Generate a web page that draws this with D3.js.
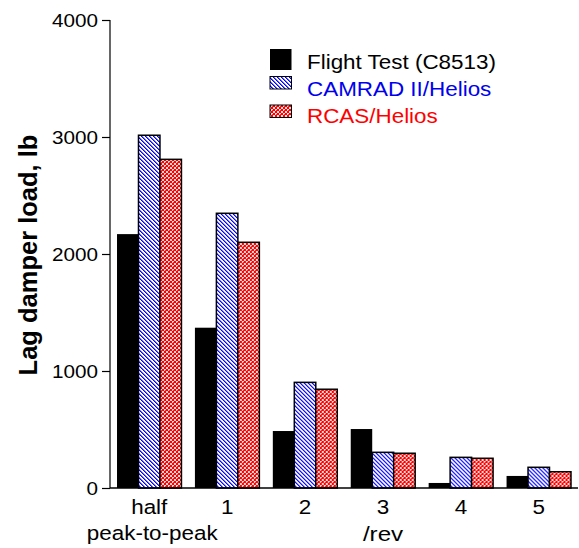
<!DOCTYPE html>
<html>
<head>
<meta charset="utf-8">
<script src="https://cdn.jsdelivr.net/npm/d3@7"></script>
<style>
  html, body { margin: 0; padding: 0; background: #fff; }
  svg { display: block; font-family: "Liberation Sans", Arial, sans-serif; }
</style>
</head>
<body>
<svg id="chart" width="579" height="548"></svg>
<script>
// Harmonic categories along the x axis
const categories = ["half", "1", "2", "3", "4", "5"];
const seriesNames = ["Flight Test (C8513)", "CAMRAD II/Helios", "RCAS/Helios"];
// Lag damper load (lb) per category
const flightTest = [2170, 1370, 487, 504, 43, 103];
const camrad     = [3015, 2348, 903, 305, 262, 177];
const rcas       = [2809, 2100, 844, 297, 254, 139];
const yTicks = [0, 1000, 2000, 3000, 4000];

const seriesValues = [flightTest, camrad, rcas];
const seriesFills = ["#000", "url(#hatchBlue)", "url(#checkRed)"];
const legendColors = ["#000", "#0000ee", "#ff0000"];

const svg = d3.select("#chart");
const X0 = 110, X1 = 578, Y0 = 488, Y1 = 20;
const HSTRETCH = 1.15;

// Fill patterns, drawn pixel by pixel for crisp hatching
const defs = svg.append("defs");
const hb = defs.append("pattern").attr("id", "hatchBlue")
  .attr("patternUnits", "userSpaceOnUse").attr("width", 4).attr("height", 4);
hb.append("rect").attr("width", 4).attr("height", 4).attr("fill", "#fff");
d3.range(4).forEach(k => {
  hb.append("rect").attr("x", k).attr("y", k).attr("width", 1).attr("height", 1)
    .attr("fill", "#0000ff").attr("shape-rendering", "crispEdges");
  hb.append("rect").attr("x", (k + 1) % 4).attr("y", k).attr("width", 1).attr("height", 1)
    .attr("fill", "#6a6aff").attr("shape-rendering", "crispEdges");
});
const cr = defs.append("pattern").attr("id", "checkRed")
  .attr("patternUnits", "userSpaceOnUse").attr("width", 4).attr("height", 4);
cr.append("rect").attr("width", 4).attr("height", 4).attr("fill", "#ffd8d8");
d3.range(4).forEach(k => {
  cr.append("rect").attr("x", k).attr("y", k).attr("width", 1).attr("height", 1)
    .attr("fill", "#ff0000").attr("shape-rendering", "crispEdges");
  cr.append("rect").attr("x", 3 - k).attr("y", k).attr("width", 1).attr("height", 1)
    .attr("fill", "#ff0000").attr("shape-rendering", "crispEdges");
});
cr.append("rect").attr("x", 0).attr("y", 2).attr("width", 1).attr("height", 1).attr("fill", "#ff3030");

const x = d3.scaleBand().domain(categories).range([X0, X1])
  .paddingInner(0.173).paddingOuter(0.09);
const xs = d3.scaleBand().domain(d3.range(3)).range([0, x.bandwidth()]);
const y = d3.scaleLinear().domain([0, 4000]).range([Y0, Y1]);

// Horizontally widened text helper
function wideText(g, tx, ty, str, size, anchor, color, weight) {
  return g.append("text")
    .attr("transform", `translate(${tx},${ty}) scale(${HSTRETCH},1)`)
    .attr("text-anchor", anchor)
    .attr("font-size", size)
    .attr("font-weight", weight || "normal")
    .attr("fill", color || "#000")
    .text(str);
}

// Bars
const groups = svg.append("g").selectAll("g")
  .data(categories).join("g")
  .attr("transform", d => `translate(${x(d)},0)`);
groups.selectAll("rect")
  .data((d, i) => seriesValues.map((vals, s) => ({ s, v: vals[i] })))
  .join("rect")
  .attr("x", d => xs(d.s))
  .attr("width", xs.bandwidth())
  .attr("y", d => y(d.v))
  .attr("height", d => Y0 - y(d.v))
  .attr("fill", d => seriesFills[d.s])
  .attr("stroke", "#000")
  .attr("stroke-width", d => d.s === 0 ? 0 : 1.5);

// Y axis
const yAxis = svg.append("g").attr("transform", `translate(${X0},0)`)
  .call(d3.axisLeft(y).tickValues(yTicks).tickSize(8).tickPadding(3).tickFormat(d3.format("d")));
yAxis.select(".domain").attr("d", `M0,${Y1}V${Y0}`).attr("stroke-width", 1.2);
yAxis.selectAll(".tick line").attr("stroke-width", 1.2);
yAxis.selectAll(".tick text").remove();
yTicks.forEach(t => wideText(svg, X0 - 12, y(t) + 6.5, String(t), 18, "end"));

// X axis line
svg.append("line").attr("x1", X0).attr("x2", X1).attr("y1", Y0).attr("y2", Y0)
  .attr("stroke", "#000").attr("stroke-width", 1.5);

// X category labels
categories.forEach(c => {
  wideText(svg, x(c) + x.bandwidth() / 2, 514, c, 19.5, "middle");
});
wideText(svg, x("half") + x.bandwidth() / 2 + 3, 540, "peak-to-peak", 19.5, "middle");
wideText(svg, 383, 541, "/rev", 21, "middle");

// Y axis title
svg.append("text")
  .attr("transform", `translate(37,255) rotate(-90)`)
  .attr("text-anchor", "middle")
  .attr("font-size", 25.5)
  .attr("font-weight", "bold")
  .text("Lag damper load, lb");

// Legend
const legend = svg.append("g");
const boxes = [
  { y: 49, h: 21 },
  { y: 76.5, h: 12.5 },
  { y: 105, h: 12.5 }
];
const baselines = [68.5, 96, 122.5];
seriesNames.forEach((name, i) => {
  legend.append("rect")
    .attr("x", 270).attr("y", boxes[i].y)
    .attr("width", 21.5).attr("height", boxes[i].h)
    .attr("fill", seriesFills[i])
    .attr("stroke", "#000").attr("stroke-width", i === 0 ? 0 : 1);
  wideText(legend, 307, baselines[i], name, 19.5, "start", legendColors[i]);
});
</script>
</body>
</html>
